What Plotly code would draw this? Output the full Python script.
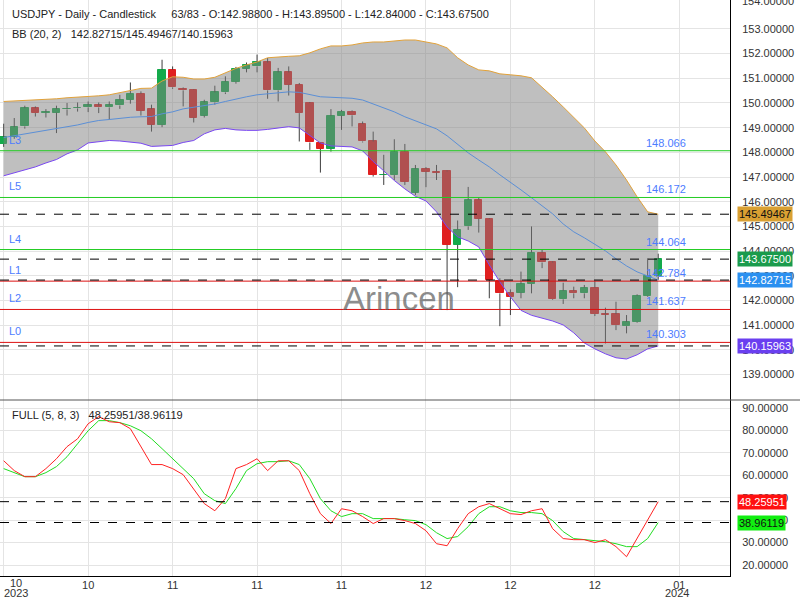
import plotly.graph_objects as go

# ---------------- data ----------------
idx = list(range(63))
opens = [148.34,148.62,149.05,149.79,149.60,149.61,149.74,149.78,149.82,149.90,
         149.82,149.90,150.13,150.37,149.75,149.12,151.35,150.58,150.54,149.49,
         150.02,150.43,150.86,151.39,151.48,151.64,150.51,151.24,150.74,150.00,
         148.37,148.14,149.49,149.65,149.15,148.44,147.08,147.08,148.03,146.37,
         147.33,147.22,147.23,144.25,145.00,146.08,145.31,142.79,142.32,142.32,
         142.67,143.94,143.54,142.05,142.39,142.29,142.52,141.45,141.45,140.96,
         141.14,142.19,142.988]
highs = [149.16,149.39,149.89,149.86,149.75,149.89,150.00,150.02,150.06,150.02,
         150.06,150.33,150.83,150.47,149.93,151.75,151.48,150.63,150.56,150.13,
         150.70,151.08,151.46,151.64,151.96,151.82,151.42,151.48,150.81,150.04,
         148.40,149.75,149.72,149.70,149.25,148.84,147.90,148.53,148.34,147.49,
         147.40,147.49,147.26,145.24,146.60,146.15,145.34,142.90,142.45,143.17,
         145.00,144.08,143.58,142.72,142.56,142.63,142.79,141.71,141.95,141.41,
         142.25,143.71,143.895]
lows = [148.22,148.55,148.96,149.45,149.41,148.78,149.49,149.65,149.63,149.59,
        149.32,149.76,149.97,149.49,148.84,149.02,150.57,149.86,149.21,149.41,
        149.93,150.36,150.78,151.24,151.24,150.17,150.06,150.30,148.44,148.10,
        147.18,148.03,148.91,149.05,148.40,147.02,146.68,146.88,146.68,146.27,
        146.59,146.88,141.61,142.54,144.86,144.75,142.09,140.96,141.41,142.09,
        142.29,143.31,142.02,141.86,142.09,142.09,141.37,140.26,140.80,140.67,
        141.10,142.15,142.84]
closes = [148.62,149.02,149.79,149.59,149.63,149.75,149.77,149.81,149.90,149.82,
          149.90,150.13,150.37,149.68,149.12,151.35,150.63,150.51,149.41,150.02,
          150.43,150.86,151.39,151.55,151.64,150.51,151.24,150.74,149.59,148.40,
          148.14,149.48,149.65,149.50,148.44,147.08,147.10,148.03,146.81,147.33,
          147.22,147.18,144.25,144.86,146.08,145.31,142.83,142.29,142.15,142.67,
          143.94,143.54,142.05,142.39,142.29,142.52,141.45,141.43,141.00,141.13,
          142.19,142.99,143.675]

bb_upper = [150.06,150.08,150.10,150.12,150.14,150.17,150.21,150.23,150.27,150.29,
            150.33,150.41,150.51,150.59,150.60,150.89,151.06,151.04,150.97,150.97,
            151.04,151.22,151.40,151.54,151.66,151.83,151.87,151.89,151.91,152.03,
            152.19,152.31,152.31,152.35,152.43,152.47,152.47,152.51,152.55,152.55,
            152.47,152.39,152.23,151.83,151.54,151.34,151.30,151.18,151.14,151.10,
            151.02,150.65,150.25,149.84,149.40,148.99,148.46,148.02,147.49,146.88,
            146.20,145.59,145.49467]
bb_mid = [148.60,148.67,148.75,148.83,148.91,148.97,149.03,149.11,149.21,149.29,
          149.33,149.38,149.42,149.44,149.45,149.56,149.64,149.76,149.82,149.88,
          149.96,150.06,150.17,150.25,150.33,150.37,150.41,150.45,150.43,150.33,
          150.25,150.23,150.21,150.19,150.12,149.96,149.80,149.64,149.44,149.27,
          149.11,148.95,148.67,148.34,147.98,147.69,147.41,147.09,146.80,146.48,
          146.16,145.83,145.51,145.10,144.78,144.54,144.29,144.01,143.69,143.40,
          143.16,143.00,142.82715]
bb_lower = [147.05,147.17,147.29,147.41,147.57,147.71,147.94,148.10,148.38,148.44,
            148.48,148.46,148.42,148.37,148.24,148.26,148.28,148.40,148.48,148.75,
            148.91,148.97,148.91,148.89,148.89,148.93,148.99,149.04,148.99,148.67,
            148.38,148.26,148.23,148.22,148.06,147.63,147.25,146.86,146.52,146.22,
            146.03,145.59,144.98,144.58,144.41,144.17,143.44,142.75,142.15,141.60,
            141.40,141.30,141.17,141.01,140.69,140.28,140.04,139.84,139.68,139.63,
            139.80,140.04,140.15963]

stoch_k = [66.5,62.1,59.4,59.4,63.0,67.4,72.8,76.3,83.0,86.2,
           83.9,83.5,80.8,72.8,64.8,64.8,63.0,60.3,54.1,47.4,
           44.2,49.6,63.0,64.8,67.4,62.1,66.5,66.5,62.1,51.8,
           42.9,38.5,45.1,44.2,41.6,38.5,40.7,40.7,39.8,38.5,
           35.3,29.5,28.6,36.2,42.9,46.0,47.4,45.1,42.9,42.5,
           44.2,45.1,36.2,31.8,31.3,31.3,30.0,31.3,28.2,23.7,
           31.8,39.8,48.25951]
stoch_d = [63.0,61.2,59.4,59.4,61.2,63.9,68.3,74.1,79.9,84.4,
           84.4,83.5,82.1,79.9,76.3,71.9,67.4,63.0,58.5,51.8,
           48.7,47.4,54.1,62.1,65.2,66.1,66.1,66.5,64.8,58.5,
           49.6,44.2,41.6,42.9,42.9,40.7,40.7,40.7,40.2,39.8,
           38.0,34.4,31.8,32.7,37.1,42.9,46.0,46.0,44.2,43.4,
           43.4,42.9,39.8,34.9,31.8,31.3,30.9,30.4,29.5,28.2,
           28.2,31.8,38.96119]

green_levels = [148.066, 146.172, 144.064]
green_names = ["L3", "L5", "L4"]
red_levels = [142.784, 141.637, 140.303]
red_names = ["L1", "L2", "L0"]

xtick_vals = [0, 8, 16, 24, 32, 40, 48, 56, 64]
xtick_text = ["", "10", "11", "11", "11", "12", "12", "12", "01"]
year_labels = [(16, "2023"), (677, "2024")]

price_ticks = list(range(139, 154))
stoch_ticks = list(range(20, 100, 10))

# ---------------- layout helpers ----------------
W, H = 800, 600
PL, PR, PT, PB = 0, 70, 0, 24
PW, PH = W - PL - PR, H - PT - PB
split = 1 - 400 / PH


def px(x):
    return x / PW


def py(y):
    return 1 - y / PH


FONT = "Liberation Sans, Arial, sans-serif"
UP = "#14aa4b"
DN = "#e02020"

fig = go.Figure()

# wicks (outside bodies)
wx, wy = [], []
for i, o, h, l, c in zip(idx, opens, highs, lows, closes):
    top, bot = max(o, c), min(o, c)
    wx += [i, i, None, i, i, None]
    wy += [h, top, None, bot, l, None]
fig.add_trace(go.Scatter(x=wx, y=wy, mode="lines", line=dict(color="#3c3c3c", width=1),
                         hoverinfo="skip", showlegend=False))

colors = [UP if c >= o else DN for o, c in zip(opens, closes)]
fig.add_trace(go.Bar(x=idx, y=[max(abs(c - o), 0.02) for o, c in zip(opens, closes)],
                     base=[min(o, c) for o, c in zip(opens, closes)], width=0.7,
                     marker=dict(color=colors, line=dict(color=colors, width=1)),
                     showlegend=False))

# Bollinger band
fig.add_trace(go.Scatter(x=idx, y=bb_upper, mode="lines", line=dict(color="#e2a23a", width=1),
                         showlegend=False))
fig.add_trace(go.Scatter(x=idx, y=bb_lower, mode="lines", line=dict(color="#7a48f2", width=1),
                         fill="tonexty", fillcolor="rgba(128,128,128,0.5)", showlegend=False))
fig.add_trace(go.Scatter(x=idx, y=bb_mid, mode="lines", line=dict(color="#5b8fd6", width=1),
                         showlegend=False))

# Stochastic
fig.add_trace(go.Scatter(x=idx, y=stoch_d, mode="lines", line=dict(color="#22dd22", width=1),
                         yaxis="y2", showlegend=False))
fig.add_trace(go.Scatter(x=idx, y=stoch_k, mode="lines", line=dict(color="#ff2222", width=1),
                         yaxis="y2", showlegend=False))

shapes = []
for lv in green_levels:
    shapes.append(dict(type="line", xref="paper", x0=0, x1=1, yref="y", y0=lv, y1=lv,
                       line=dict(color="#22cc22", width=1), layer="above"))
for lv in red_levels:
    shapes.append(dict(type="line", xref="paper", x0=0, x1=1, yref="y", y0=lv, y1=lv,
                       line=dict(color="#dd1111", width=1), layer="above"))
for lv in [bb_upper[-1], closes[-1], bb_mid[-1], bb_lower[-1]]:
    shapes.append(dict(type="line", xref="paper", x0=0, x1=1, yref="y", y0=lv, y1=lv,
                       line=dict(color="#000000", width=1, dash="dash"), layer="above"))
for lv in [stoch_k[-1], stoch_d[-1]]:
    shapes.append(dict(type="line", xref="paper", x0=0, x1=1, yref="y2", y0=lv, y1=lv,
                       line=dict(color="#000000", width=1, dash="dash"), layer="above"))
shapes.append(dict(type="line", xref="paper", x0=0, x1=W / PW, yref="paper", y0=split, y1=split,
                   line=dict(color="#555555", width=1), layer="above"))

ann = []
ann.append(dict(text="USDJPY - Daily - Candlestick\u00a0\u00a0\u00a0\u00a0\u00a063/83 - O:142.98800 - H:143.89500 - L:142.84000 - C:143.67500",
                xref="paper", yref="paper", x=px(10), y=py(14), xanchor="left", yanchor="middle",
                showarrow=False, font=dict(family=FONT, size=11, color="#222")))
ann.append(dict(text="BB (20, 2)\u00a0\u00a0\u00a0142.82715/145.49467/140.15963",
                xref="paper", yref="paper", x=px(10), y=py(34), xanchor="left", yanchor="middle",
                showarrow=False, font=dict(family=FONT, size=11, color="#222")))
ann.append(dict(text="FULL (5, 8, 3)\u00a0\u00a0\u00a048.25951/38.96119",
                xref="paper", yref="paper", x=px(10), y=py(415), xanchor="left", yanchor="middle",
                showarrow=False, font=dict(family=FONT, size=11, color="#222")))
ann.append(dict(text="Arincen", xref="paper", yref="paper", x=px(399), y=py(298),
                xanchor="center", yanchor="middle", showarrow=False,
                font=dict(family=FONT, size=33, color="rgba(90,90,90,0.7)")))
ann.append(dict(text="10", xref="paper", yref="paper", x=px(16), y=py(583),
                xanchor="center", yanchor="middle", showarrow=False,
                font=dict(family=FONT, size=11, color="#333")))
for xp, yr in year_labels:
    ann.append(dict(text=yr, xref="paper", yref="paper", x=px(xp), y=py(593),
                    xanchor="center", yanchor="middle", showarrow=False,
                    font=dict(family=FONT, size=11, color="#333")))
# top price label, half cut by the top edge as in the reference
ann.append(dict(text="154.00000", xref="paper", yref="paper", x=1, y=py(1), xshift=10,
                xanchor="left", yanchor="middle", showarrow=False,
                font=dict(family=FONT, size=11, color="#333")))

for lv, nm in zip(green_levels + red_levels, green_names + red_names):
    ann.append(dict(text=nm, xref="paper", yref="y", x=px(7), y=lv, yshift=11,
                    xanchor="left", yanchor="middle", showarrow=False,
                    font=dict(family=FONT, size=11, color="#4d7cff")))
    ann.append(dict(text=f"{lv:.3f}", xref="paper", yref="y", x=px(644), y=lv, yshift=8,
                    xanchor="left", yanchor="middle", showarrow=False,
                    font=dict(family=FONT, size=11, color="#4d7cff")))

boxes = [("y", bb_upper[-1], "#d9a032", "#111"),
         ("y", closes[-1], "#1a9b4c", "#fff"),
         ("y", bb_mid[-1], "#2b90f0", "#fff"),
         ("y", bb_lower[-1], "#6a3ff0", "#fff"),
         ("y2", stoch_k[-1], "#ff1010", "#fff"),
         ("y2", stoch_d[-1], "#11ee11", "#111")]
for yr, v, bg, fc in boxes:
    ann.append(dict(text=f"{v:.5f}", xref="paper", yref=yr, x=1, y=v, xshift=7,
                    xanchor="left", yanchor="middle", showarrow=False, bgcolor=bg,
                    borderpad=1, font=dict(family=FONT, size=11, color=fc)))

fig.update_layout(
    width=W, height=H, margin=dict(l=PL, r=PR, t=PT, b=PB, autoexpand=False),
    paper_bgcolor="white", plot_bgcolor="white",
    bargap=0, showlegend=False, hovermode=False,
    shapes=shapes, annotations=ann,
    xaxis=dict(domain=[0, 1], anchor="y2", range=[-0.35, 68.8], tickmode="array",
               tickvals=xtick_vals, ticktext=xtick_text, showgrid=True, gridcolor="#e4e4e4",
               zeroline=False, showline=True, linecolor="#000", linewidth=1, ticks="",
               automargin=False, ticklabelstandoff=-1,
               tickfont=dict(family=FONT, size=11, color="#333")),
    yaxis=dict(domain=[split, 1], anchor="x", side="right", range=[137.97, 154.17],
               tickmode="array", tickvals=price_ticks, tickformat=".5f",
               showgrid=True, gridcolor="#e4e4e4", zeroline=False, showline=True,
               linecolor="#000", linewidth=1, ticks="", ticklabelstandoff=9,
               automargin=False,
               tickfont=dict(family=FONT, size=11, color="#333")),
    yaxis2=dict(domain=[0, split], anchor="x", side="right", range=[15.1, 93.6],
                tickmode="array", tickvals=stoch_ticks, tickformat=".5f",
                showgrid=True, gridcolor="#e4e4e4", zeroline=False, showline=True,
                linecolor="#000", linewidth=1, ticks="", ticklabelstandoff=9,
                automargin=False,
                tickfont=dict(family=FONT, size=11, color="#333")),
)

fig.write_html("out.html", config={"displayModeBar": False},
               post_script="document.body.style.margin='0px';document.body.style.overflow='hidden';")
